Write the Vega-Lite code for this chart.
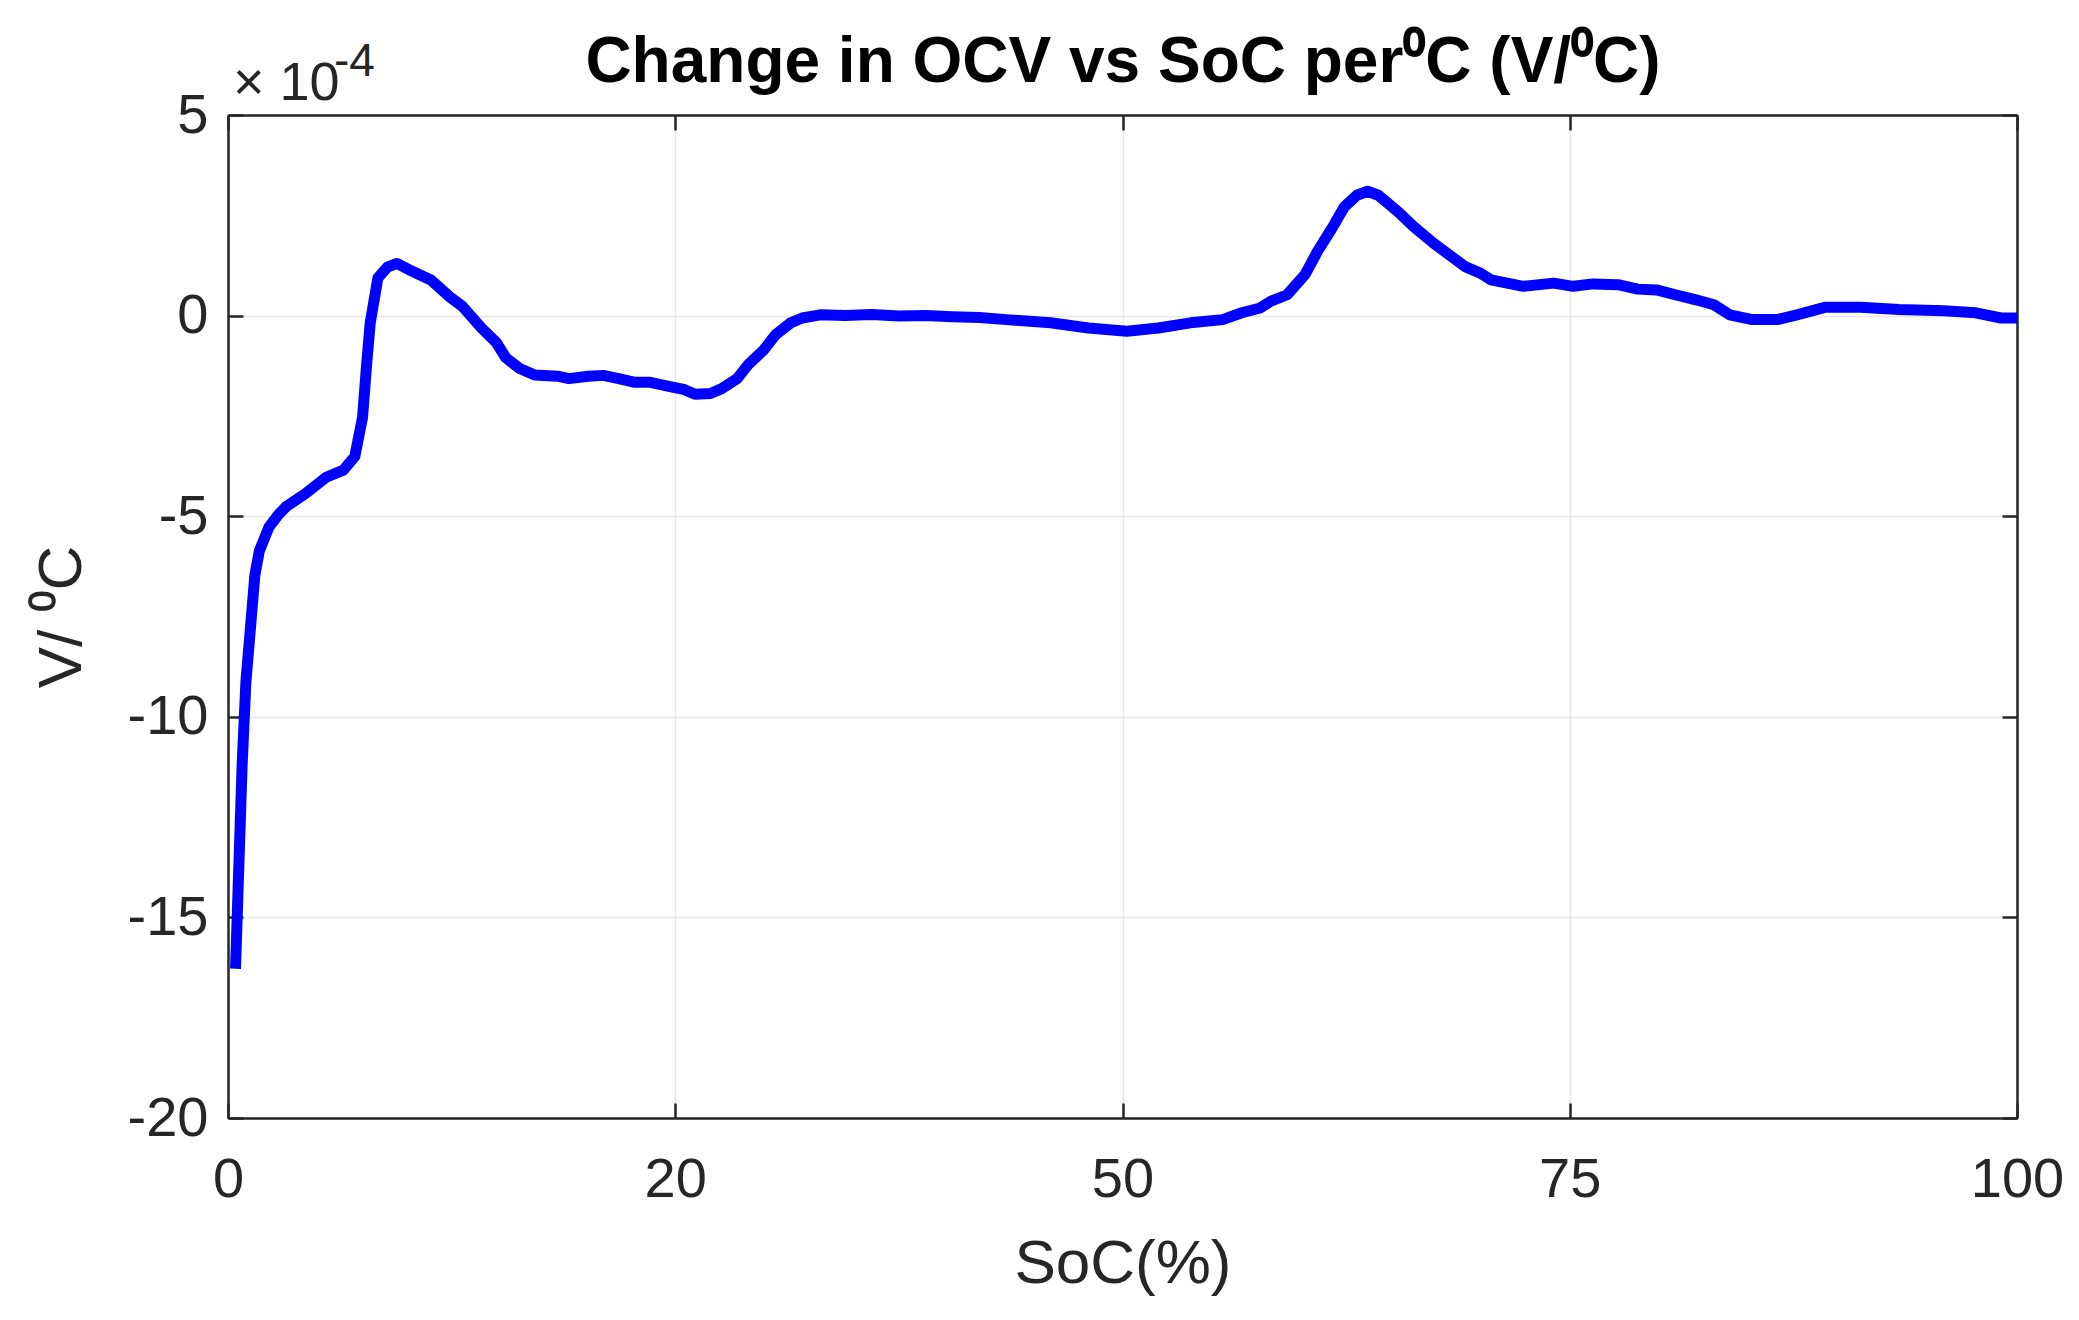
{
  "$schema": "https://vega.github.io/schema/vega-lite/v6.json",
  "description": "Change in OCV vs SoC per degree C",
  "autosize": "none",
  "width": 1789,
  "height": 1003,
  "padding": {"left": 228, "top": 115, "right": 62, "bottom": 202},
  "background": "white",
  "datasets": {
    "curve": [
      {"soc": 0.42, "dv": -16.28},
      {"soc": 0.79, "dv": -11.2},
      {"soc": 1.0, "dv": -9.14},
      {"soc": 1.5, "dv": -6.48},
      {"soc": 1.75, "dv": -5.87},
      {"soc": 2.29, "dv": -5.27},
      {"soc": 2.82, "dv": -4.96},
      {"soc": 3.25, "dv": -4.76},
      {"soc": 4.32, "dv": -4.44},
      {"soc": 5.49, "dv": -4.03},
      {"soc": 6.45, "dv": -3.85},
      {"soc": 7.09, "dv": -3.51},
      {"soc": 7.52, "dv": -2.54},
      {"soc": 7.74, "dv": -1.27},
      {"soc": 7.95, "dv": -0.18},
      {"soc": 8.38, "dv": 0.94},
      {"soc": 8.91, "dv": 1.21},
      {"soc": 9.44, "dv": 1.3},
      {"soc": 10.09, "dv": 1.15},
      {"soc": 11.37, "dv": 0.88},
      {"soc": 12.44, "dv": 0.45},
      {"soc": 13.08, "dv": 0.24},
      {"soc": 14.15, "dv": -0.3},
      {"soc": 15.0, "dv": -0.67},
      {"soc": 15.53, "dv": -1.05},
      {"soc": 16.28, "dv": -1.31},
      {"soc": 17.14, "dv": -1.48},
      {"soc": 18.42, "dv": -1.51},
      {"soc": 19.06, "dv": -1.57},
      {"soc": 20.13, "dv": -1.51},
      {"soc": 20.98, "dv": -1.49},
      {"soc": 21.84, "dv": -1.57},
      {"soc": 22.69, "dv": -1.66},
      {"soc": 23.55, "dv": -1.66},
      {"soc": 24.83, "dv": -1.78},
      {"soc": 25.47, "dv": -1.84},
      {"soc": 26.11, "dv": -1.96},
      {"soc": 26.97, "dv": -1.94},
      {"soc": 27.6, "dv": -1.82},
      {"soc": 28.46, "dv": -1.57},
      {"soc": 29.1, "dv": -1.21},
      {"soc": 29.96, "dv": -0.85},
      {"soc": 30.6, "dv": -0.48},
      {"soc": 31.45, "dv": -0.18},
      {"soc": 32.1, "dv": -0.06},
      {"soc": 33.1, "dv": 0.02},
      {"soc": 34.5, "dv": 0.0},
      {"soc": 36.0, "dv": 0.03},
      {"soc": 37.5, "dv": -0.01},
      {"soc": 39.0, "dv": 0.0},
      {"soc": 40.5, "dv": -0.03},
      {"soc": 42.0, "dv": -0.05},
      {"soc": 43.5, "dv": -0.1},
      {"soc": 45.97, "dv": -0.18},
      {"soc": 48.1, "dv": -0.31},
      {"soc": 50.25, "dv": -0.39},
      {"soc": 52.0, "dv": -0.31},
      {"soc": 53.8, "dv": -0.18},
      {"soc": 55.6, "dv": -0.1},
      {"soc": 56.67, "dv": 0.07},
      {"soc": 57.7, "dv": 0.19},
      {"soc": 58.3, "dv": 0.36},
      {"soc": 59.2, "dv": 0.52},
      {"soc": 60.2, "dv": 1.02},
      {"soc": 60.9, "dv": 1.6},
      {"soc": 61.7, "dv": 2.17},
      {"soc": 62.4, "dv": 2.71},
      {"soc": 63.1, "dv": 3.0},
      {"soc": 63.7, "dv": 3.1},
      {"soc": 64.3, "dv": 3.0},
      {"soc": 65.4, "dv": 2.59},
      {"soc": 66.3, "dv": 2.21},
      {"soc": 67.4, "dv": 1.8},
      {"soc": 68.4, "dv": 1.47},
      {"soc": 69.15, "dv": 1.22},
      {"soc": 70.0, "dv": 1.06},
      {"soc": 70.6, "dv": 0.89},
      {"soc": 72.4, "dv": 0.73},
      {"soc": 74.1, "dv": 0.81},
      {"soc": 75.2, "dv": 0.73},
      {"soc": 76.3, "dv": 0.79},
      {"soc": 77.7, "dv": 0.77},
      {"soc": 78.8, "dv": 0.66},
      {"soc": 79.85, "dv": 0.64},
      {"soc": 80.9, "dv": 0.52},
      {"soc": 82.0, "dv": 0.4},
      {"soc": 83.06, "dv": 0.27},
      {"soc": 83.95, "dv": 0.02},
      {"soc": 85.2, "dv": -0.1},
      {"soc": 86.6, "dv": -0.1},
      {"soc": 87.7, "dv": 0.02},
      {"soc": 89.3, "dv": 0.21},
      {"soc": 91.26, "dv": 0.21},
      {"soc": 93.4, "dv": 0.15},
      {"soc": 95.9, "dv": 0.12},
      {"soc": 97.7, "dv": 0.07},
      {"soc": 99.1, "dv": -0.06},
      {"soc": 100.0, "dv": -0.06}
    ],
    "exponent": [
      {"soc": 0, "dv": 5, "base": "× 10", "power": "-4"}
    ]
  },
  "layer": [
    {
      "data": {"name": "curve"},
      "mark": {"type": "line", "color": "#0000ff", "strokeWidth": 11, "strokeJoin": "round", "strokeCap": "butt", "clip": true},
      "encoding": {
        "x": {
          "field": "soc",
          "type": "quantitative",
          "scale": {"domain": [0, 100], "nice": false, "zero": false},
          "axis": {
            "orient": "bottom",
            "title": "SoC(%)",
            "values": [0, 25, 50, 75, 100],
            "labelExpr": "datum.value == 25 ? '20' : '' + datum.value",
            "labelPadding": 49,
            "titleFontSize": 62,
            "titleFontWeight": "normal",
            "titleY": 164,
            "titleBaseline": "alphabetic",
            "grid": true
          }
        },
        "y": {
          "field": "dv",
          "type": "quantitative",
          "scale": {"domain": [-20, 5], "nice": false, "zero": false},
          "axis": {
            "orient": "left",
            "title": "V/ ⁰C",
            "values": [-20, -15, -10, -5, 0, 5],
            "labelExpr": "'' + datum.value",
            "labelPadding": 35,
            "titleFontSize": 62,
            "titleFontWeight": "normal",
            "titleX": -148,
            "titleBaseline": "alphabetic",
            "grid": true
          }
        }
      }
    },
    {
      "data": {"name": "exponent"},
      "mark": {"type": "text", "align": "left", "baseline": "alphabetic", "dx": 5, "dy": -15, "font": "Liberation Sans", "fontSize": 54, "color": "#262626"},
      "encoding": {
        "x": {
          "field": "soc",
          "type": "quantitative",
          "axis": {
            "orient": "top",
            "title": "Change in OCV vs SoC per⁰C (V/⁰C)",
            "titleFont": "Liberation Sans",
            "titleFontSize": 64,
            "titleFontWeight": "bold",
            "titleColor": "#000000",
            "titleBaseline": "alphabetic",
            "titleY": -34,
            "labels": false,
            "grid": false,
            "values": [0, 25, 50, 75, 100]
          }
        },
        "y": {
          "field": "dv",
          "type": "quantitative",
          "axis": {"orient": "right", "title": null, "labels": false, "grid": false, "values": [-20, -15, -10, -5, 0, 5]}
        },
        "text": {"field": "base"}
      }
    },
    {
      "data": {"name": "exponent"},
      "mark": {"type": "text", "align": "left", "baseline": "alphabetic", "dx": 106, "dy": -39, "font": "Liberation Sans", "fontSize": 46, "color": "#262626"},
      "encoding": {
        "x": {"field": "soc", "type": "quantitative", "axis": null},
        "y": {"field": "dv", "type": "quantitative", "axis": null},
        "text": {"field": "power"}
      }
    }
  ],
  "resolve": {"axis": {"x": "independent", "y": "independent"}},
  "config": {
    "view": {"stroke": null},
    "axis": {
      "labelFont": "Liberation Sans",
      "labelFontSize": 56,
      "labelColor": "#262626",
      "labelFlush": false,
      "titleFont": "Liberation Sans",
      "titleColor": "#262626",
      "domainColor": "#262626",
      "domainWidth": 2.5,
      "tickColor": "#262626",
      "tickWidth": 2.5,
      "tickSize": -15,
      "gridColor": "#e6e6e6",
      "gridWidth": 1.5
    }
  }
}
